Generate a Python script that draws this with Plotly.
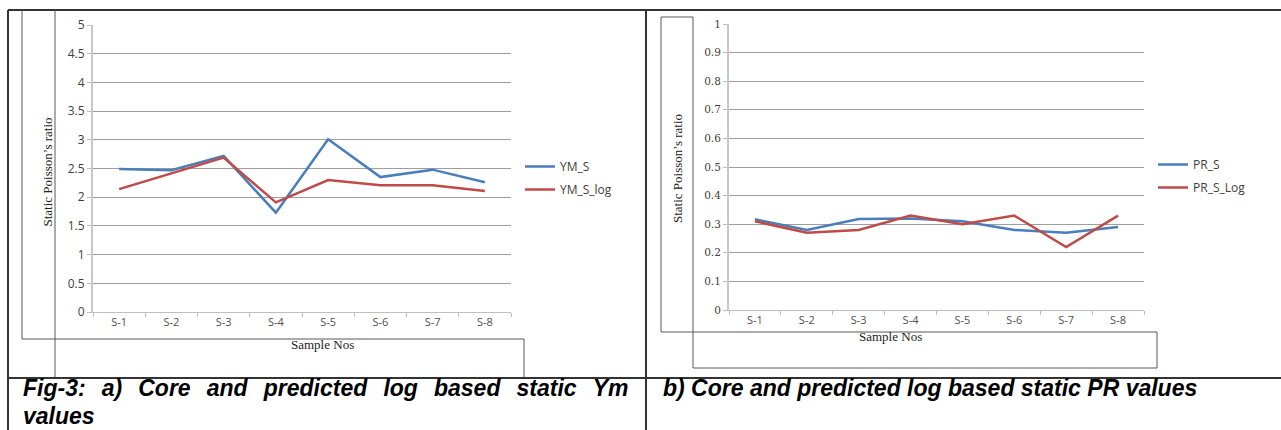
import plotly.graph_objects as go

W, H = 1281, 430

samples = ["S-1", "S-2", "S-3", "S-4", "S-5", "S-6", "S-7", "S-8"]
ym_s = [2.49, 2.47, 2.72, 1.73, 3.01, 2.35, 2.48, 2.26]
ym_s_log = [2.14, 2.41, 2.69, 1.91, 2.30, 2.21, 2.21, 2.11]
pr_s = [0.317, 0.28, 0.318, 0.32, 0.31, 0.28, 0.27, 0.29]
pr_s_log = [0.31, 0.27, 0.28, 0.33, 0.30, 0.33, 0.22, 0.33]
ym_ticks = [0, 0.5, 1, 1.5, 2, 2.5, 3, 3.5, 4, 4.5, 5]
pr_ticks = [0, 0.1, 0.2, 0.3, 0.4, 0.5, 0.6, 0.7, 0.8, 0.9, 1]

BLUE = "#4A7EBB"
RED = "#BE4B48"
GRID = "#9E9E9E"
SANS = "Open Sans, Noto Sans, sans-serif"
XTICKFONT = dict(family=SANS, size=11, color="#505050")
YTICKFONT = dict(family=SANS, size=12, color="#404040")
YTICKFONT2 = dict(family="DejaVu Serif, serif", size=10.5, color="#404040")


def px(x):
    return x / W


def py(y):
    return 1 - y / H


fig = go.Figure()
fig.add_trace(go.Scatter(x=samples, y=ym_s, name="YM_S", mode="lines",
                         line=dict(color=BLUE, width=2.5), xaxis="x", yaxis="y",
                         legend="legend", legendgroup="a"))
fig.add_trace(go.Scatter(x=samples, y=ym_s_log, name="YM_S_log", mode="lines",
                         line=dict(color=RED, width=2.5), xaxis="x", yaxis="y",
                         legend="legend", legendgroup="b"))
fig.add_trace(go.Scatter(x=samples, y=pr_s, name="PR_S", mode="lines",
                         line=dict(color=BLUE, width=2.5), xaxis="x2", yaxis="y2",
                         legend="legend2", legendgroup="c"))
fig.add_trace(go.Scatter(x=samples, y=pr_s_log, name="PR_S_Log", mode="lines",
                         line=dict(color=RED, width=2.5), xaxis="x2", yaxis="y2",
                         legend="legend2", legendgroup="d"))

xcommon = dict(type="category", range=[-0.5, len(samples) - 0.5], showgrid=False,
               showline=True, linecolor="#BFBFBF", linewidth=1, ticks="outside",
               tickson="boundaries", ticklen=4, tickcolor="#BFBFBF", tickfont=XTICKFONT,
               zeroline=False, fixedrange=True, automargin=False)
ycommon = dict(showgrid=True, gridcolor=GRID, gridwidth=1, showline=True,
               linecolor="#C8C8C8", linewidth=2, ticks="outside", ticklen=4,
               tickcolor="#BFBFBF", zeroline=False, fixedrange=True, automargin=False)

legend_common = dict(font=dict(family=SANS, size=12, color="#404040"),
                     bgcolor="rgba(0,0,0,0)", traceorder="grouped", tracegroupgap=4,
                     xanchor="left", yanchor="top", itemwidth=30)

fig.update_layout(
    width=W, height=H,
    margin=dict(l=0, r=0, t=0, b=0, pad=0, autoexpand=False),
    paper_bgcolor="white", plot_bgcolor="white",
    showlegend=True,
    xaxis=dict(xcommon, domain=[px(93), px(511)], anchor="y"),
    yaxis=dict(ycommon, domain=[py(312), py(25)], range=[0, 5], tickvals=ym_ticks,
               ticktext=[f"{v:g}" for v in ym_ticks], tickfont=YTICKFONT, anchor="x"),
    xaxis2=dict(xcommon, domain=[px(729), px(1144)], anchor="y2"),
    yaxis2=dict(ycommon, domain=[py(310), py(24)], range=[0, 1], tickvals=pr_ticks,
                ticktext=[f"{v:g}" for v in pr_ticks], tickfont=YTICKFONT2, anchor="x2"),
    legend=dict(legend_common, x=px(520), y=py(152)),
    legend2=dict(legend_common, x=px(1153), y=py(150)),
)

DARK = "#333333"
BOX = "#595959"
shapes = []


def line(x0, y0, x1, y1, color, width):
    shapes.append(dict(type="line", xref="paper", yref="paper",
                       x0=px(x0), y0=py(y0), x1=px(x1), y1=py(y1),
                       line=dict(color=color, width=width), layer="above"))


# table frame
line(8, 10, W, 10, DARK, 2)
line(8, 10, 8, H, DARK, 2)
line(646, 10, 646, H, DARK, 2)
line(8, 378, W, 378, DARK, 2)
# left chart boxes
line(22, 10, 22, 339, BOX, 1)
line(55, 10, 55, 377, BOX, 1)
line(22, 339, 524, 339, BOX, 1)
line(524, 339, 524, 377, BOX, 1)
# right chart boxes
line(661, 17, 693, 17, BOX, 1)
line(661, 17, 661, 332, BOX, 1)
line(693, 17, 693, 368, BOX, 1)
line(661, 332, 1157, 332, BOX, 1)
line(1157, 332, 1157, 368, BOX, 1)
line(693, 368, 1157, 368, BOX, 1)
fig.update_layout(shapes=shapes)

SERIF = "Liberation Serif, Times New Roman, serif"
ann = []
ann.append(dict(text="Static Poisson\u2019s ratio", x=px(37), y=py(172), xref="paper", yref="paper",
                textangle=-90, showarrow=False, font=dict(family=SERIF, size=13, color="#222")))
ann.append(dict(text="Static Poisson\u2019s ratio", x=px(677), y=py(169), xref="paper", yref="paper",
                textangle=-90, showarrow=False, font=dict(family=SERIF, size=13, color="#222")))
ann.append(dict(text="Sample Nos", x=px(289), y=py(354), xref="paper", yref="paper",
                showarrow=False, font=dict(family=SERIF, size=13, color="#222")))
ann.append(dict(text="Sample Nos", x=px(924), y=py(346), xref="paper", yref="paper",
                showarrow=False, font=dict(family=SERIF, size=13, color="#222")))

# captions: base size sets the line pitch (1.3 x 21.5 = 28 px), spans set the glyph size
CAP = dict(family="Liberation Sans, Arial, sans-serif", size=21.5, color="black")
SPAN = "<span style='font-size:23px'>"
gap = "\u2002\u2009"
words_a = ["Fig-3:", "a)", "Core", "and", "predicted", "log", "based", "static", "Ym"]
cap_a = (f"<b><i>{SPAN}{gap.join(words_a)}</span><br>{SPAN}values</span></i></b>")
cap_b = (f"<b><i>{SPAN}b) Core and predicted log based static PR values</span>"
         f"<br>{SPAN}\u00a0</span></i></b>")
ann.append(dict(text=cap_a, x=px(21), y=py(431), xref="paper", yref="paper",
                xanchor="left", yanchor="bottom", align="left", showarrow=False, font=CAP))
ann.append(dict(text=cap_b, x=px(661), y=py(431), xref="paper", yref="paper",
                xanchor="left", yanchor="bottom", align="left", showarrow=False, font=CAP))
fig.update_layout(annotations=ann)

POST = (
    "document.documentElement.style.margin='0';"
    "document.body.style.margin='0';"
    "document.body.style.overflow='hidden';"
)
fig.write_html("out.html", post_script=POST)
